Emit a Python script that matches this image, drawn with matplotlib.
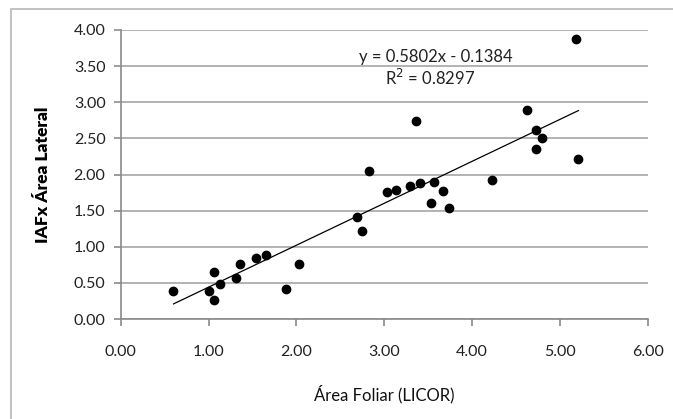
import numpy as np
import matplotlib
matplotlib.use("Agg")
import matplotlib.pyplot as plt
from matplotlib.patches import Rectangle

# ===============================
# Data
# ===============================
area_foliar = [0.60, 1.00, 1.06, 1.06, 1.125, 1.31, 1.355, 1.545, 1.65, 1.88,
               2.03, 2.69, 2.745, 2.825, 3.03, 3.13, 3.29, 3.36, 3.41, 3.53,
               3.57, 3.67, 3.74, 4.23, 4.62, 4.73, 4.80, 4.73, 5.18, 5.21]
iaf_area_lateral = [0.39, 0.39, 0.655, 0.27, 0.49, 0.57, 0.76, 0.84, 0.88, 0.415,
                    0.76, 1.41, 1.22, 2.05, 1.76, 1.785, 1.84, 2.745, 1.88, 1.61,
                    1.89, 1.775, 1.53, 1.92, 2.89, 2.61, 2.505, 2.35, 3.88, 2.21]

slope = 0.5802
intercept = -0.1384
r_squared = 0.8297

x_ticks = [0, 1, 2, 3, 4, 5, 6]
y_ticks = [0, 0.5, 1, 1.5, 2, 2.5, 3, 3.5, 4]

FONT = ["Lato", "DejaVu Sans"]
plt.rcParams["font.family"] = FONT

fig = plt.figure(figsize=(6.73, 4.19), dpi=100)
ax = fig.add_axes([0.1795, 0.2385, 0.783, 0.690])

# outer chart border (only left and top edges visible in the crop)
fig.add_artist(Rectangle((10.5 / 673, -0.1), 1.0, 1.0 - 9.5 / 419 + 0.1,
                         transform=fig.transFigure, fill=False,
                         edgecolor="#bdbdbd", lw=1.3))

x = np.array(area_foliar)
y = np.array(iaf_area_lateral)
ax.plot(x, y, "o", color="black", ms=6, zorder=3)

# linear trendline
xl = np.array([x.min(), x.max()])
ax.plot(xl, slope * xl + intercept, color="black", lw=0.9, zorder=2)

ax.text(3.59, 3.62, f"y = {slope:.4f}x - {abs(intercept):.4f}",
        ha="center", va="center", fontsize=12, color="#222222")
ax.text(3.52, 3.34, f"R$^2$ = {r_squared:.4f}",
        ha="center", va="center", fontsize=12, color="#222222")

ax.set_xlim(0, 6)
ax.set_ylim(0, 4)
ax.set_xticks(x_ticks)
ax.set_yticks(y_ticks)
ax.set_xticklabels([f"{v:.2f}" for v in x_ticks])
ax.set_yticklabels([f"{v:.2f}" for v in y_ticks])
ax.tick_params(axis="both", labelsize=11.5, colors="#8a8a8a", labelcolor="#222222",
               length=5, width=1.2, direction="out")
ax.tick_params(axis="x", pad=14)
ax.tick_params(axis="y", pad=6)

ax.grid(axis="y", color="#a6a6a6", lw=1.2)
ax.set_axisbelow(True)
for s in ["top", "right"]:
    ax.spines[s].set_visible(False)
for s in ["left", "bottom"]:
    ax.spines[s].set_color("#8a8a8a")
    ax.spines[s].set_linewidth(1.2)

ax.set_xlabel("Área Foliar (LICOR)", fontsize=12, color="#111111", labelpad=18)
ax.set_ylabel("IAFx Área Lateral", fontsize=12.5, fontweight="heavy", color="black",
              labelpad=16)

fig.savefig("out.png", dpi=100)
